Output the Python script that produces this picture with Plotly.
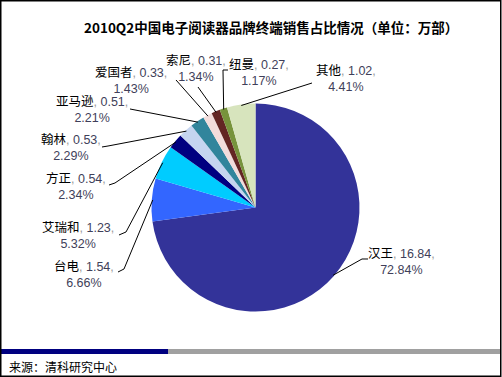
import math
import plotly.graph_objects as go

# ---- data ----
brands = ["汉王", "台电", "艾瑞和", "方正", "翰林", "亚马逊", "爱国者", "索尼", "纽曼", "其他"]
sales = [16.84, 1.54, 1.23, 0.54, 0.53, 0.51, 0.33, 0.31, 0.27, 1.02]
shares = ["72.84%", "6.66%", "5.32%", "2.34%", "2.29%", "2.21%", "1.43%", "1.34%", "1.17%", "4.41%"]
colors = ["#333399", "#3366FF", "#00CCFF", "#000080", "#C5D5F0",
          "#31859C", "#F2DCDB", "#632523", "#77933C", "#D7E4BD"]
title_text = "2010Q2中国电子阅读器品牌终端销售占比情况（单位：万部）"
source_text = "来源：清科研究中心"

W, H = 502, 377
CX, CY, R = 255.5, 207.5, 104.0

# label layout: text centre (px), leader points from label toward pie (px)
label_pos = {
    "汉王": ((401, 262), [(368, 259), (362, 259)]),
    "台电": ((84, 274), [(118, 272), (124, 269)]),
    "艾瑞和": ((78, 236), [(119, 235), (126, 232)]),
    "方正": ((76, 186), [(109, 185), (115, 183)]),
    "翰林": ((71, 147), [(102, 147), (108, 146)]),
    "亚马逊": ((92, 110), [(130, 109)]),
    "爱国者": ((131, 81), [(176, 80)]),
    "索尼": ((196, 69), [(198, 87)]),
    "纽曼": ((259, 73), [(228, 70), (223, 70)]),
    "其他": ((346, 79), [(312, 83)]),
}

fig = go.Figure()
fig.add_trace(go.Pie(
    labels=brands, values=sales, sort=False, direction="clockwise", rotation=0,
    marker=dict(colors=colors, line=dict(width=0)),
    textinfo="none", hoverinfo="label+value+percent", showlegend=False,
    domain=dict(x=[(CX - R) / W, (CX + R) / W], y=[(H - CY - R) / H, (H - CY + R) / H]),
))

def px2paper(x, y):
    return x / W, 1 - y / H

total = sum(sales)
cum = 0.0
shapes = []
annotations = []
numc = "#3F3F5A"
for name, v, pct in zip(brands, sales, shares):
    mid = (cum + v / 2) / total * 2 * math.pi
    cum += v
    ex = CX + (R - 1) * math.sin(mid)
    ey = CY - (R - 1) * math.cos(mid)
    (tx, ty), pts = label_pos[name]
    allpts = pts + [(ex, ey)]
    path = ""
    for i, (x, y) in enumerate(allpts):
        px, py = px2paper(x, y)
        path += ("M" if i == 0 else " L") + f" {px:.5f} {py:.5f}"
    shapes.append(dict(type="path", xref="paper", yref="paper", path=path,
                       line=dict(color="black", width=1)))
    px, py = px2paper(tx, ty)
    txt = (f"{name}<span style='color:#9a9a9a'>, </span><span style='color:{numc}'>{v:.2f}</span>"
           f"<span style='color:#9a9a9a'>,</span><br><span style='color:{numc}'>{pct}</span>")
    annotations.append(dict(x=px, y=py, xref="paper", yref="paper", text=txt, showarrow=False,
                            xanchor="center", yanchor="middle", align="center",
                            font=dict(size=12.5, color="black",
                                      family="Liberation Sans, Noto Sans CJK SC")))

# title
tx, ty = px2paper(271, 27)
annotations.append(dict(x=tx, y=ty, xref="paper", yref="paper", text=f"<b>{title_text}</b>",
                        showarrow=False, xanchor="center", yanchor="middle",
                        font=dict(size=13.5, color="black", family="Noto Sans CJK SC")))
# source
sx, sy = px2paper(7, 366)
annotations.append(dict(x=sx, y=sy, xref="paper", yref="paper", text=source_text,
                        showarrow=False, xanchor="left", yanchor="middle",
                        font=dict(size=12, color="black", family="Noto Sans CJK SC")))

# bottom bar
def rect(x0, y0, x1, y1, color, line=None):
    a0, b0 = px2paper(x0, y0)
    a1, b1 = px2paper(x1, y1)
    d = dict(type="rect", xref="paper", yref="paper", x0=a0, y0=b1, x1=a1, y1=b0,
             layer="above")
    if line:
        d["line"] = dict(color=line, width=1.5)
        d["fillcolor"] = "rgba(0,0,0,0)"
    else:
        d["fillcolor"] = color
        d["line"] = dict(width=0)
    return d

shapes.append(rect(1, 349, 168, 354, "#000080"))
shapes.append(rect(168, 349, 500, 354, "#A0A0A0"))
shapes.append(rect(0.75, 0.75, 500.75, 376.25, None, line="black"))

fig.update_layout(width=W, height=H, margin=dict(l=0, r=0, t=0, b=0),
                  paper_bgcolor="white", plot_bgcolor="white",
                  shapes=shapes, annotations=annotations)
fig.write_html("out.html", config={"displayModeBar": False},
               post_script="document.body.style.margin='0px';document.body.style.overflow='hidden';")
